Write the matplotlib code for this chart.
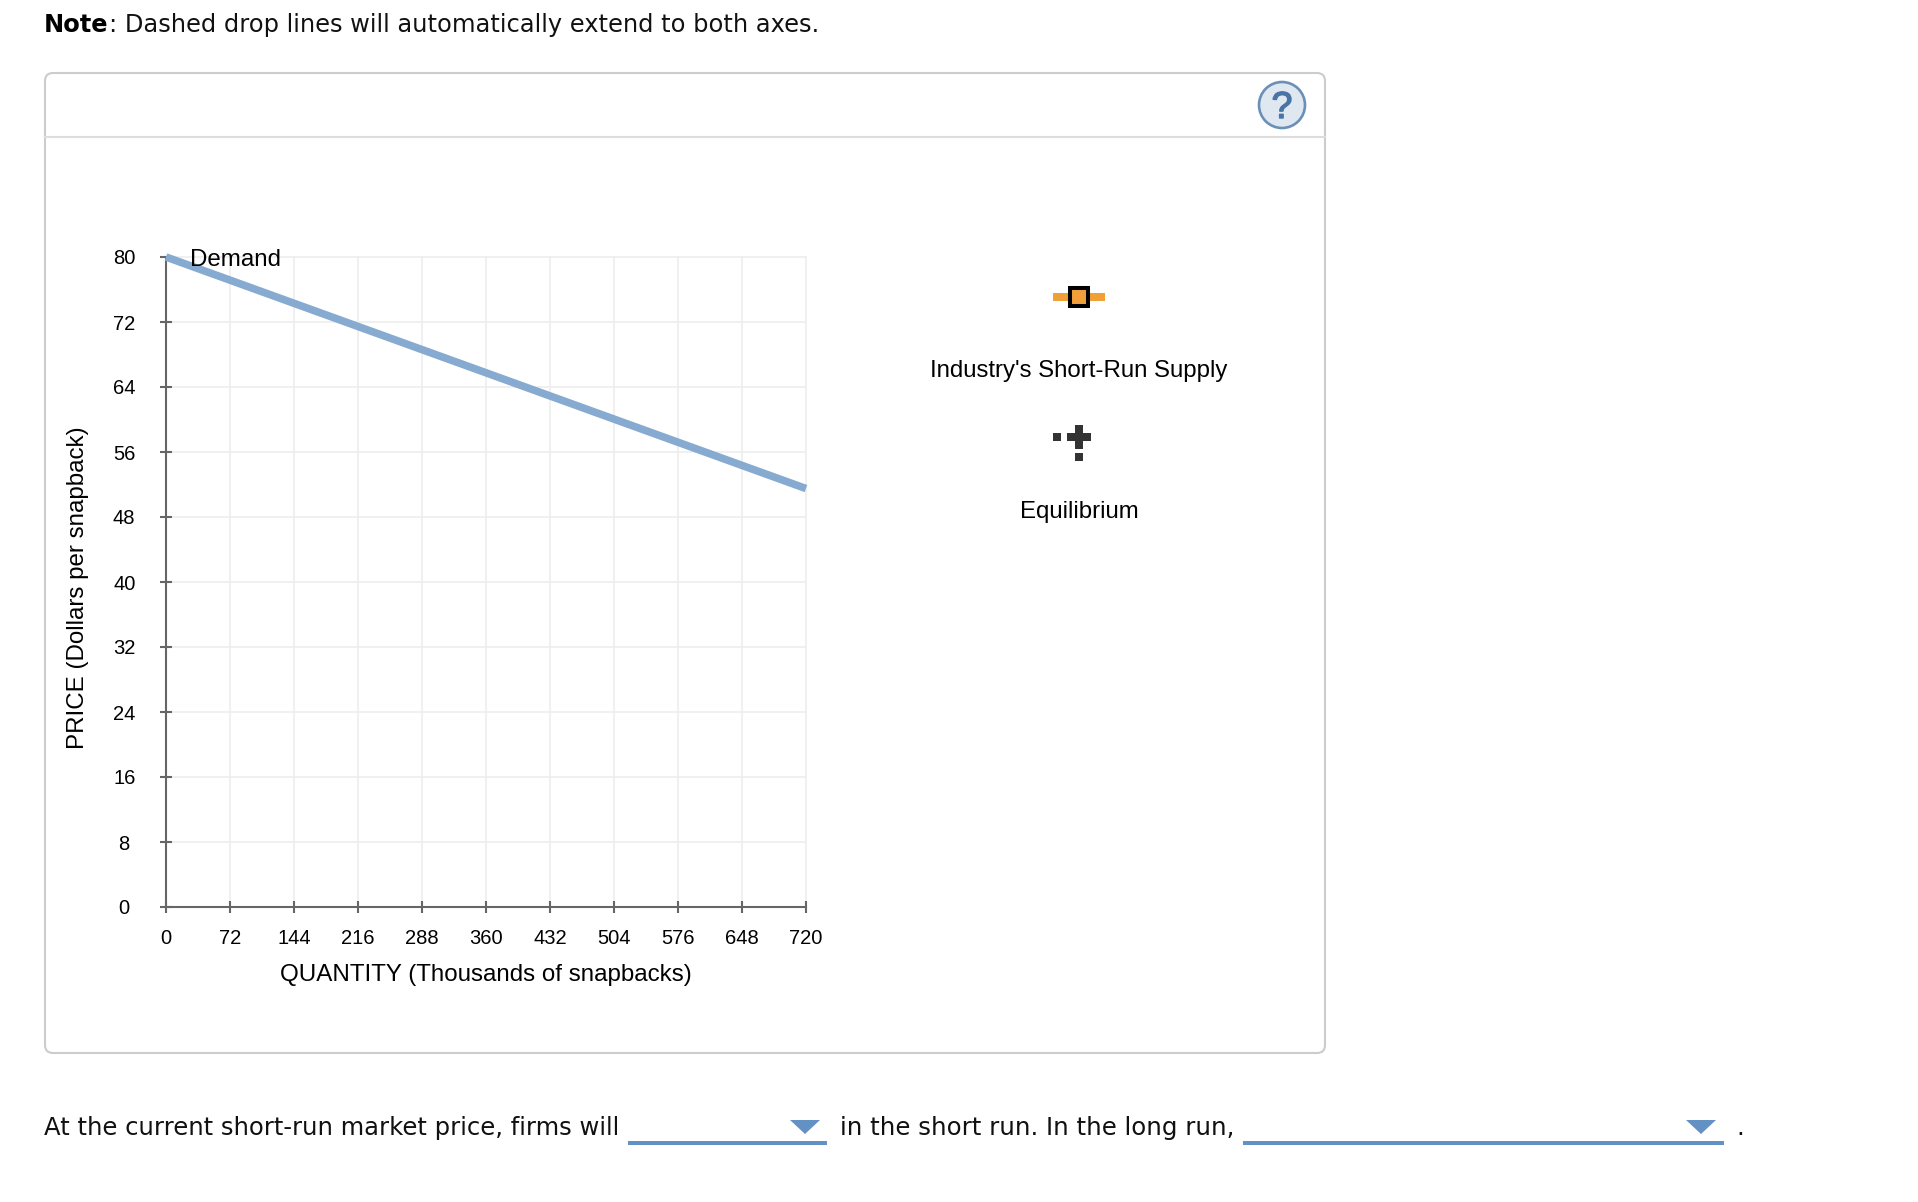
"""Short-run supply and demand graph, with the page text around it."""
import matplotlib
matplotlib.use("Agg")
import matplotlib.pyplot as plt
import matplotlib.patheffects as pe
from matplotlib.patches import Circle, FancyBboxPatch, Polygon, Rectangle

W, H = 1918, 1202
ARIAL = "Liberation Sans"
VERDANA = "DejaVu Sans"

quantity_ticks = [0, 72, 144, 216, 288, 360, 432, 504, 576, 648, 720]
price_ticks = [0, 8, 16, 24, 32, 40, 48, 56, 64, 72, 80]
demand_quantity = [0, 720]
demand_price = [80, 51.5]

fig = plt.figure(figsize=(W / 100, H / 100), dpi=100, facecolor="white")

# page layer, in pixels
page = fig.add_axes([0, 0, 1, 1])
page.set_xlim(0, W)
page.set_ylim(H, 0)
page.axis("off")

page.text(44, 32, "Note", family=VERDANA, fontsize=17.4, fontweight="bold",
          color="#000", ha="left", va="baseline")
page.text(109, 32, ": Dashed drop lines will automatically extend to both axes.",
          family=VERDANA, fontsize=17.4, color="#111", ha="left", va="baseline")

page.add_patch(FancyBboxPatch((45, 73), 1280, 980,
                              boxstyle="round,pad=0,rounding_size=8",
                              fc="white", ec="#cccccc", lw=1.5))
page.plot([45, 1325], [137, 137], color="#dddddd", lw=1.5)

# help icon
page.add_patch(Circle((1282, 105), 23, fc="#dfe7f0", ec="#6b90b8", lw=1.9))
page.text(1282, 108, "?", family=ARIAL, fontsize=27, color="#4a74a5",
          ha="center", va="center",
          path_effects=[pe.withStroke(linewidth=1.0, foreground="#4a74a5")])

# legend: short-run supply
page.add_patch(Rectangle((1053, 293), 52, 8, fc="#f19f38", ec="none"))
page.add_patch(Rectangle((1070, 288), 18, 18, fc="#f19f38", ec="black", lw=2.9))
page.text(1079, 371, "Industry's Short-Run Supply", family=ARIAL, fontsize=17.3,
          color="black", ha="center", va="center")

# legend: equilibrium
page.add_patch(Rectangle((1053, 433), 8, 8, fc="#333333", ec="none"))
page.add_patch(Rectangle((1067, 433), 24, 8, fc="#333333", ec="none"))
page.add_patch(Rectangle((1075, 425), 8, 24, fc="#333333", ec="none"))
page.add_patch(Rectangle((1075, 453), 8, 8, fc="#333333", ec="none"))
page.text(1079, 512, "Equilibrium", family=ARIAL, fontsize=17.3,
          color="black", ha="center", va="center")

# sentence with the two dropdowns
page.text(44, 1135, "At the current short-run market price, firms will",
          family=VERDANA, fontsize=17.5, color="#111", ha="left", va="baseline")
page.text(840, 1135, "in the short run. In the long run,",
          family=VERDANA, fontsize=17.6, color="#111", ha="left", va="baseline")
page.text(1736, 1135, ".", family=VERDANA, fontsize=17.6, color="#111",
          ha="left", va="baseline")
for x0, x1, tri_x0, tri_x1 in [(628, 827, 790, 820), (1243, 1724, 1686, 1716)]:
    page.add_patch(Rectangle((x0, 1141), x1 - x0, 4, fc="#6491c4", ec="none"))
    page.add_patch(Polygon([(tri_x0, 1120), (tri_x1, 1120),
                            ((tri_x0 + tri_x1) / 2, 1134)],
                           fc="#6491c4", ec="none"))

# graph
x0, x1, y0, y1 = 166, 806, 257, 907
ax = fig.add_axes([x0 / W, 1 - y1 / H, (x1 - x0) / W, (y1 - y0) / H])
ax.patch.set_alpha(0)
ax.set_xlim(0, 720)
ax.set_ylim(0, 80)
ax.set_axisbelow(True)
ax.grid(True, color="#eeeeee", lw=1.2)
for g in ax.get_xgridlines() + ax.get_ygridlines():
    g.set_clip_on(False)
for s in ["top", "right"]:
    ax.spines[s].set_visible(False)
for s in ["left", "bottom"]:
    ax.spines[s].set_color("#666666")
    ax.spines[s].set_linewidth(1.5)

ax.set_xticks(quantity_ticks)
ax.set_yticks(price_ticks)
ax.tick_params(axis="both", direction="inout", length=8.6, width=1.5, color="#666666",
               labelsize=14.5, labelcolor="black")
ax.tick_params(axis="x", pad=11.6)
ax.tick_params(axis="y", pad=25.8)
for lab in ax.get_xticklabels() + ax.get_yticklabels():
    lab.set_family(ARIAL)
for lab in ax.get_yticklabels():
    lab.set_ha("center")

ax.plot(demand_quantity, demand_price, color="#87aad0", lw=5.5,
        solid_capstyle="butt", clip_on=False, zorder=3)
ax.annotate("Demand", xy=(0, 80), xytext=(17.2, -2.4), textcoords="offset points",
            family=ARIAL, fontsize=17.4, color="black", ha="left", va="center",
            annotation_clip=False, zorder=4)

page.text(486, 974.5, "QUANTITY (Thousands of snapbacks)", family=ARIAL, fontsize=17.35,
          color="black", ha="center", va="center")
page.text(78, 588, "PRICE (Dollars per snapback)", family=ARIAL, fontsize=17.35,
          color="black", ha="center", va="center", rotation=90)

fig.savefig("out.png", dpi=100)
